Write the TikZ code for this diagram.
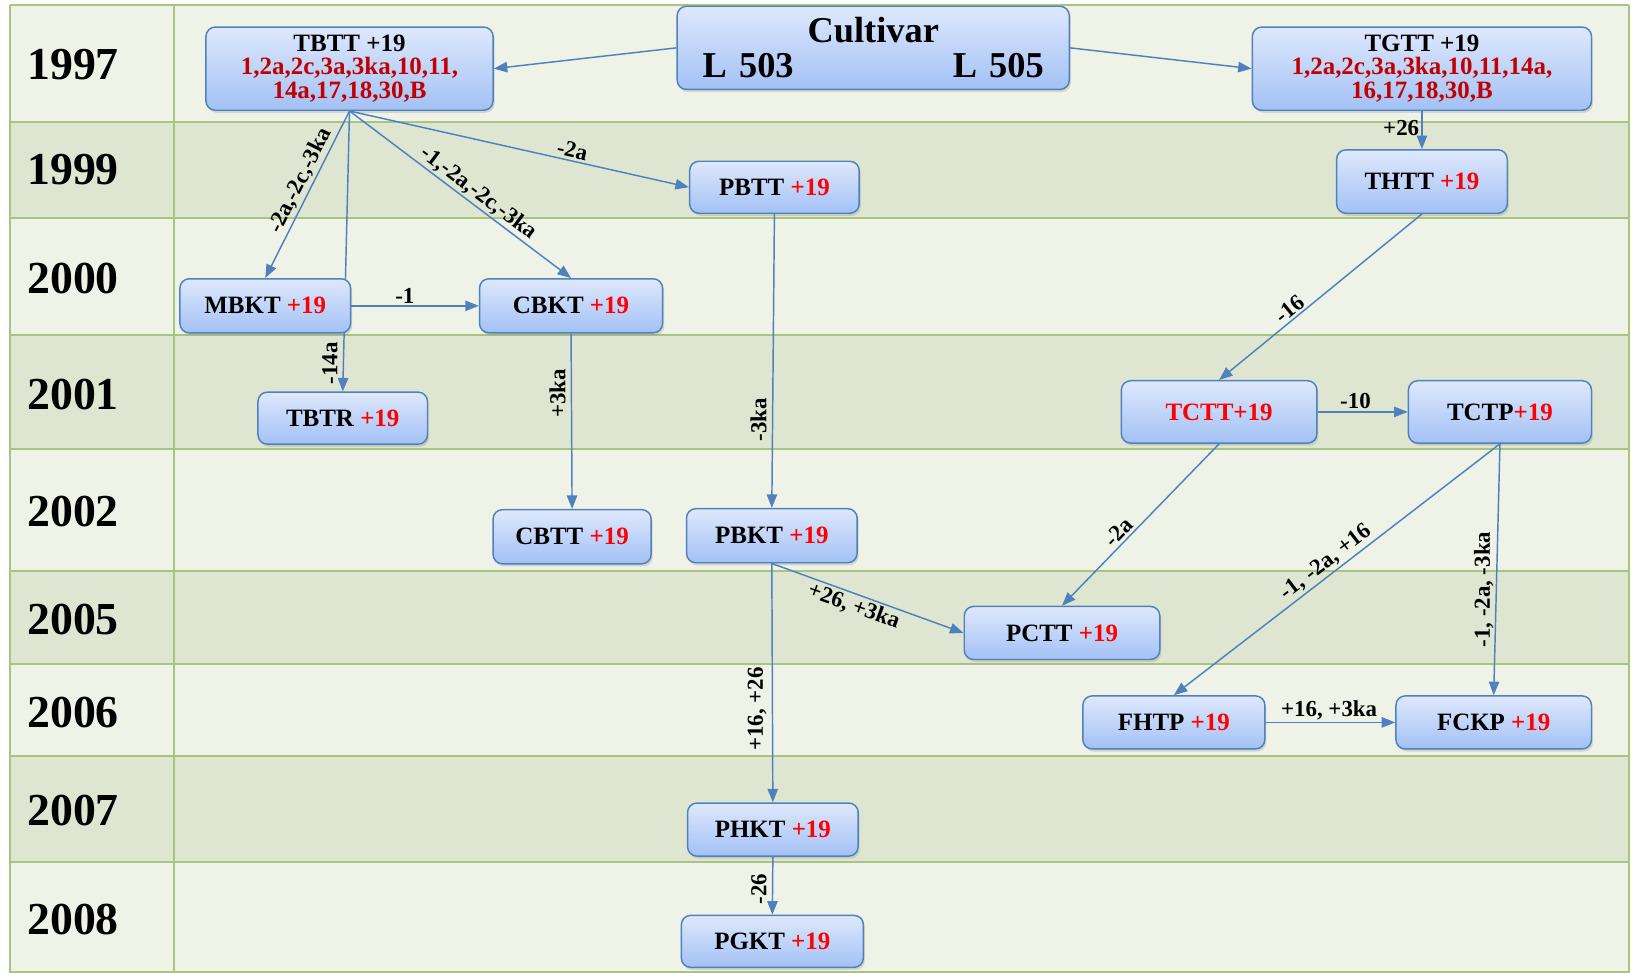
\documentclass[tikz,border=0pt]{standalone}
\usepackage{fontspec}
\setmainfont{Liberation Serif}
\usetikzlibrary{arrows.meta,shadows}
\definecolor{rowA}{HTML}{EEF2E7}
\definecolor{rowB}{HTML}{DEE6D1}
\definecolor{gridc}{HTML}{A9C47F}
\definecolor{arr}{HTML}{4F81BD}
\definecolor{boxtop}{HTML}{DEE8FC}
\definecolor{boxbot}{HTML}{A3C1F5}
\definecolor{plus}{HTML}{FF0000}
\definecolor{dred}{HTML}{C00000}
\pgfdeclarelayer{tablelayer}
\pgfdeclarelayer{linklayer}
\pgfsetlayers{tablelayer,linklayer,main}
\begin{document}
\begin{tikzpicture}[x=1pt,y=-1pt,
  box/.style={draw=arr, line width=1.4pt, rounded corners=9pt, top color=boxtop, bottom color=boxbot,
    inner sep=0pt, align=center, font=\fontsize{24}{23}\selectfont\bfseries,
    drop shadow={opacity=0.25,shadow xshift=1.5pt,shadow yshift=-2.5pt}},
  conn/.style={draw=arr, line width=1.4pt, -{Triangle[length=13pt,width=10pt]}},
  lab/.style={font=\fontsize{22}{23}\selectfont\bfseries, inner sep=2pt, text=black},
  vlab/.style={lab, rotate=90, anchor=south, inner sep=5pt},
  year/.style={font=\fontsize{44}{44}\selectfont\bfseries, anchor=west, inner sep=0pt},
  gridline/.style={draw=gridc, line width=2pt}
]
\useasboundingbox (0,0) rectangle (1568,935);
\begin{pgfonlayer}{tablelayer}
\fill[rowA] (10,5) rectangle (1566,117);
\fill[rowB] (10,117) rectangle (1566,210);
\fill[rowA] (10,210) rectangle (1566,322);
\fill[rowB] (10,322) rectangle (1566,432);
\fill[rowA] (10,432) rectangle (1566,549);
\fill[rowB] (10,549) rectangle (1566,638);
\fill[rowA] (10,638) rectangle (1566,727);
\fill[rowB] (10,727) rectangle (1566,829);
\fill[rowA] (10,829) rectangle (1566,935);
\foreach \yy in {5,117,210,322,432,549,638,727,829,934} \draw[gridline] (10,\yy) -- (1566,\yy);
\draw[gridline] (10,5) -- (10,935);
\draw[gridline] (167,5) -- (167,935);
\draw[gridline] (1566,5) -- (1566,935);
\end{pgfonlayer}
% years
\node[year] (y1997) at (26,62) {1997};
\node[year] (y1999) at (26,163) {1999};
\node[year] (y2000) at (26,268) {2000};
\node[year] (y2001) at (26,379) {2001};
\node[year] (y2002) at (26,492) {2002};
\node[year] (y2005) at (26,596) {2005};
\node[year] (y2006) at (26,685) {2006};
\node[year] (y2007) at (26,779) {2007};
\node[year] (y2008) at (26,884) {2008};
% nodes
\node[box, minimum width=377pt, minimum height=80pt, text width=328pt, font=\fontsize{35}{34}\selectfont\bfseries] (cult) at (839.5,46) {Cultivar\\L 503\hfill L 505};
\node[box, minimum width=276pt, minimum height=80pt] (tbtt) at (336,66) {TBTT +19\\\textcolor{dred}{1,2a,2c,3a,3ka,10,11,}\\\textcolor{dred}{14a,17,18,30,B}};
\node[box, minimum width=326pt, minimum height=80pt] (tgtt) at (1367,66) {TGTT +19\\\textcolor{dred}{1,2a,2c,3a,3ka,10,11,14a,}\\\textcolor{dred}{16,17,18,30,B}};
\node[box, minimum width=163pt, minimum height=50pt] (pbtt) at (744.5,180) {PBTT \textcolor{plus}{+19}};
\node[box, minimum width=164pt, minimum height=61pt] (thtt) at (1367,174.5) {THTT \textcolor{plus}{+19}};
\node[box, minimum width=164pt, minimum height=52pt] (mbkt) at (255,294) {MBKT \textcolor{plus}{+19}};
\node[box, minimum width=176pt, minimum height=52pt] (cbkt) at (549,294) {CBKT \textcolor{plus}{+19}};
\node[box, minimum width=163pt, minimum height=50pt] (tbtr) at (329.5,402) {TBTR \textcolor{plus}{+19}};
\node[box, minimum width=188pt, minimum height=60pt] (tctt) at (1172,396) {\textcolor{plus}{TCTT+19}};
\node[box, minimum width=176pt, minimum height=60pt] (tctp) at (1442,396) {TCTP\textcolor{plus}{+19}};
\node[box, minimum width=152pt, minimum height=52pt] (cbtt) at (550,516) {CBTT \textcolor{plus}{+19}};
\node[box, minimum width=164pt, minimum height=52pt] (pbkt) at (742,515) {PBKT \textcolor{plus}{+19}};
\node[box, minimum width=188pt, minimum height=51pt] (pctt) at (1021,608.5) {PCTT \textcolor{plus}{+19}};
\node[box, minimum width=175pt, minimum height=51pt] (fhtp) at (1128.5,694.5) {FHTP \textcolor{plus}{+19}};
\node[box, minimum width=188pt, minimum height=51pt] (fckp) at (1436,694.5) {FCKP \textcolor{plus}{+19}};
\node[box, minimum width=164pt, minimum height=51pt] (phkt) at (743,797.5) {PHKT \textcolor{plus}{+19}};
\node[box, minimum width=175pt, minimum height=50pt] (pgkt) at (742.5,905) {PGKT \textcolor{plus}{+19}};
% connectors
\begin{pgfonlayer}{linklayer}
\draw[conn] (tbtt.south) -- node[vlab, pos=0.9] {-14a} (tbtr.north);
\end{pgfonlayer}
\draw[conn] (cult.west) -- (tbtt.east);
\draw[conn] (cult.east) -- (tgtt.west);
\draw[conn] (tbtt.south) -- node[lab, sloped, above, pos=0.45] {-2a,-2c,-3ka} (mbkt.north);
\draw[conn] (tbtt.south) -- node[lab, sloped, above, pos=0.55] {-1,-2a,-2c,-3ka} (cbkt.north);
\draw[conn] (tbtt.south) -- node[lab, sloped, above, pos=0.65] {-2a} (pbtt.west);
\draw[conn] (mbkt.east) -- node[lab, above, pos=0.42] {-1} (cbkt.west);
\draw[conn] (pbtt.south) -- node[vlab, pos=0.7] {-3ka} (pbkt.north);
\draw[conn] (cbkt.south) -- node[vlab, pos=0.34] {+3ka} (cbtt.north);
\draw[conn] (tgtt.south) -- node[lab, left, pos=0.45] {+26} (thtt.north);
\draw[conn] (thtt.south) -- node[lab, sloped, above, pos=0.62] {-16} (tctt.north);
\draw[conn] (tctt.east) -- node[lab, above, pos=0.42] {-10} (tctp.west);
\draw[conn] (tctt.south) -- node[lab, sloped, above, pos=0.59] {-2a} (pctt.north);
\draw[conn] (tctp.south) -- node[lab, sloped, above, pos=0.51] {-1, -2a, +16} (fhtp.north);
\draw[conn] (tctp.south) -- node[vlab, inner sep=2pt, pos=0.58] {-1, -2a, -3ka} (fckp.north);
\draw[conn] (fhtp.east) -- node[lab, above, pos=0.49] {+16, +3ka} (fckp.west);
\draw[conn] (pbkt.south) -- node[lab, sloped, below, pos=0.45] {+26, +3ka} (pctt.west);
\draw[conn] (pbkt.south) -- node[vlab, pos=0.61] {+16, +26} (phkt.north);
\draw[conn] (phkt.south) -- node[vlab, pos=0.56] {-26} (pgkt.north);
\end{tikzpicture}
\end{document}
